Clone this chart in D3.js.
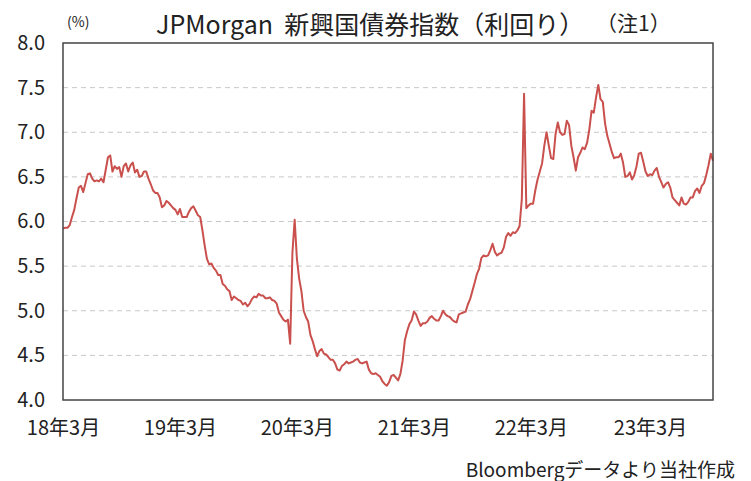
<!DOCTYPE html>
<html lang="ja">
<head>
<meta charset="UTF-8">
<title>JPMorgan 新興国債券指数（利回り）</title>
<script src="https://cdnjs.cloudflare.com/ajax/libs/d3/7.8.5/d3.min.js"></script>
<style>
    body { margin: 0; background: #fff; }
    svg { display: block; font-family: "Noto Sans CJK JP", "Noto Sans", sans-serif; }
</style>
</head>
<body>
<svg id="chart" width="751" height="481"></svg>
<script>
    // weekly observations, first one on this Friday
    const firstWeek = "2018-03-30";

    const yields = [
        5.92, 5.93, 5.93, 5.96, 6.05, 6.13, 6.26, 6.38, 6.40, 6.33,
        6.43, 6.53, 6.54, 6.48, 6.45, 6.46, 6.45, 6.48, 6.44, 6.58,
        6.72, 6.74, 6.56, 6.62, 6.59, 6.61, 6.50, 6.62, 6.65, 6.56,
        6.63, 6.66, 6.55, 6.58, 6.50, 6.51, 6.56, 6.56, 6.48, 6.42,
        6.35, 6.32, 6.32, 6.27, 6.16, 6.18, 6.23, 6.21, 6.18, 6.15,
        6.13, 6.08, 6.14, 6.05, 6.05, 6.05, 6.11, 6.15, 6.17, 6.12,
        6.07, 6.05, 5.90, 5.73, 5.58, 5.52, 5.53, 5.48, 5.45, 5.40,
        5.40, 5.30, 5.28, 5.24, 5.22, 5.12, 5.16, 5.14, 5.12, 5.11,
        5.07, 5.09, 5.05, 5.08, 5.13, 5.16, 5.15, 5.19, 5.17, 5.17,
        5.14, 5.14, 5.15, 5.12, 5.11, 5.08, 4.98, 4.94, 4.90, 4.88,
        4.90, 4.63, 5.65, 6.02, 5.58, 5.36, 5.22, 5.00, 4.93, 4.88,
        4.73, 4.66, 4.57, 4.49, 4.55, 4.57, 4.52, 4.51, 4.48, 4.45,
        4.45, 4.41, 4.34, 4.33, 4.38, 4.40, 4.43, 4.41, 4.42, 4.43,
        4.45, 4.46, 4.42, 4.41, 4.42, 4.43, 4.34, 4.30, 4.29, 4.30,
        4.28, 4.26, 4.21, 4.18, 4.16, 4.20, 4.27, 4.28, 4.25, 4.22,
        4.29, 4.44, 4.67, 4.77, 4.85, 4.89, 4.99, 4.96, 4.89, 4.83,
        4.86, 4.86, 4.88, 4.92, 4.94, 4.91, 4.89, 4.89, 4.94, 5.00,
        4.96, 4.94, 4.93, 4.90, 4.88, 4.87, 4.96, 4.97, 4.98, 4.99,
        5.07, 5.13, 5.22, 5.31, 5.41, 5.47, 5.59, 5.62, 5.61, 5.62,
        5.68, 5.75, 5.66, 5.62, 5.64, 5.65, 5.71, 5.83, 5.87, 5.84,
        5.88, 5.87, 5.90, 5.95, 6.25, 7.43, 6.15, 6.18, 6.20, 6.20,
        6.35, 6.47, 6.56, 6.65, 6.85, 7.00, 6.85, 6.71, 6.70, 6.98,
        7.11, 7.00, 6.97, 6.98, 7.13, 7.08, 6.85, 6.72, 6.57, 6.72,
        6.77, 6.83, 6.81, 6.88, 7.03, 7.24, 7.22, 7.39, 7.53, 7.37,
        7.34, 7.10, 6.96, 6.87, 6.78, 6.71, 6.72, 6.72, 6.76, 6.66,
        6.50, 6.51, 6.55, 6.47, 6.52, 6.62, 6.76, 6.77, 6.67, 6.56,
        6.51, 6.53, 6.52, 6.57, 6.60, 6.50, 6.44, 6.38, 6.42, 6.44,
        6.38, 6.27, 6.24, 6.21, 6.18, 6.27, 6.20, 6.19, 6.22, 6.27,
        6.27, 6.34, 6.37, 6.32, 6.40, 6.43, 6.52, 6.63, 6.76, 6.68
    ];

    const tickDates = ["2018-03-30", "2019-03-29", "2020-03-27", "2021-03-26", "2022-03-25", "2023-03-31"];
    const tickLabels = ["18年3月", "19年3月", "20年3月", "21年3月", "22年3月", "23年3月"];
    const yTicks = [4.0, 4.5, 5.0, 5.5, 6.0, 6.5, 7.0, 7.5, 8.0];

    const parse = d3.timeParse("%Y-%m-%d");
    const start = parse(firstWeek);
    const data = yields.map((v, i) => ({ date: d3.timeWeek.offset(start, i), value: v }));

    const plotLeft = 63, plotRight = 713, plotTop = 43, plotBottom = 400;
    const svg = d3.select("#chart");

    const x = d3.scaleTime()
        .domain(d3.extent(data, d => d.date))
        .range([plotLeft, plotRight]);
    const y = d3.scaleLinear()
        .domain([4, 8])
        .range([plotBottom, plotTop]);

    // dashed grid
    svg.append("g")
        .selectAll("line")
        .data(yTicks.filter(t => t > 4 && t < 8))
        .join("line")
        .attr("x1", plotLeft).attr("x2", plotRight)
        .attr("y1", d => y(d)).attr("y2", d => y(d))
        .attr("stroke", "#c8c8c8")
        .attr("stroke-width", 1)
        .attr("stroke-dasharray", "5,4");

    // y axis labels
    const yAxis = svg.append("g")
        .attr("transform", `translate(${plotLeft},0)`)
        .call(d3.axisLeft(y).tickValues(yTicks).tickFormat(d3.format(".1f")).tickSize(0).tickPadding(18));
    yAxis.select(".domain").remove();
    yAxis.selectAll("text")
        .attr("font-size", 20)
        .attr("fill", "#222")
        .style("font-family", "'Noto Sans CJK JP', sans-serif");

    // x axis labels
    const xAxis = svg.append("g")
        .attr("transform", `translate(0,${plotBottom})`)
        .call(d3.axisBottom(x)
            .tickValues(tickDates.map(parse))
            .tickFormat((d, i) => tickLabels[i])
            .tickSize(0)
            .tickPadding(21));
    xAxis.select(".domain").remove();
    xAxis.selectAll("text")
        .attr("font-size", 20)
        .attr("fill", "#222")
        .style("font-family", "'Noto Sans CJK JP', sans-serif");

    // the series
    const line = d3.line()
        .x(d => x(d.date))
        .y(d => y(d.value));

    svg.append("path")
        .datum(data)
        .attr("fill", "none")
        .attr("stroke", "#c9504d")
        .attr("stroke-width", 2)
        .attr("stroke-linejoin", "round")
        .attr("d", line);

    // plot frame
    svg.append("rect")
        .attr("x", plotLeft).attr("y", plotTop)
        .attr("width", plotRight - plotLeft).attr("height", plotBottom - plotTop)
        .attr("fill", "none")
        .attr("stroke", "#444")
        .attr("stroke-width", 1.5);

    // titles and notes
    svg.append("text")
        .attr("x", 156).attr("y", 34)
        .attr("font-size", 25)
        .attr("fill", "#222")
        .text("JPMorgan\u00a0\u00a0新興国債券指数（利回り）");

    svg.append("text")
        .attr("x", 67).attr("y", 27)
        .attr("font-size", 14)
        .attr("fill", "#222")
        .text("(%)");

    svg.append("text")
        .attr("x", 596).attr("y", 31)
        .attr("font-size", 21)
        .attr("fill", "#222")
        .text("（注1）");

    svg.append("text")
        .attr("x", 735).attr("y", 477)
        .attr("text-anchor", "end")
        .attr("font-size", 19)
        .attr("fill", "#222")
        .text("Bloombergデータより当社作成");
</script>
</body>
</html>
